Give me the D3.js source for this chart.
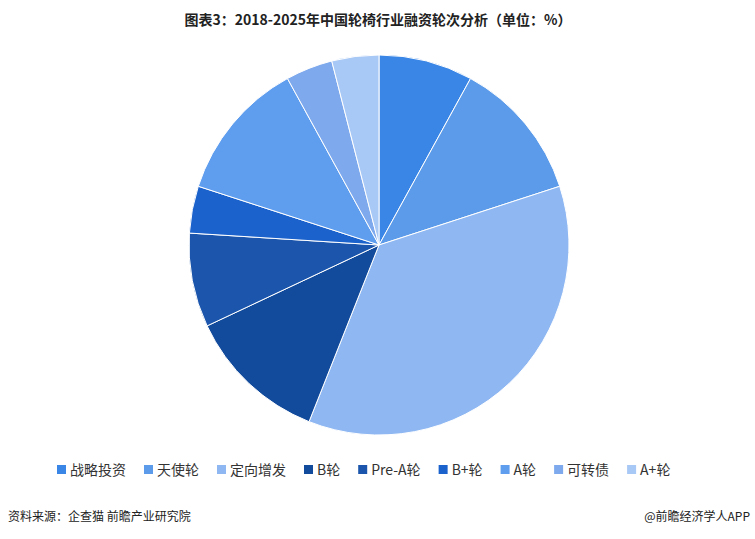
<!DOCTYPE html>
<html><head><meta charset="utf-8">
<script src="https://cdn.jsdelivr.net/npm/d3@7"></script>
<style>body{margin:0;background:#fff;font-family:"Noto Sans CJK SC","Noto Sans",sans-serif}</style>
</head><body>
<svg id="chart" width="755" height="539"></svg>
<script>
const categories = ["战略投资","天使轮","定向增发","B轮","Pre-A轮","B+轮","A轮","可转债","A+轮"];
const values = [8, 12, 36, 12, 8, 4, 12, 4, 4];
const colors = ["#3a86e6","#5b9be9","#8fb8f3","#124a9c","#1b56ac","#1b62cc","#5f9def","#7eaaed","#a8c8f5"];

const svg = d3.select("#chart");
const cx = 379, cy = 245, r = 190;

svg.append("text").attr("x", 378).attr("y", 25).attr("text-anchor", "middle")
  .attr("font-size", 14).attr("font-weight", "bold").attr("fill", "#222")
  .text("图表3：2018-2025年中国轮椅行业融资轮次分析（单位：%）");

const pie = d3.pie().sort(null)(values);
const arc = d3.arc().innerRadius(0).outerRadius(r);
svg.append("g").attr("transform", `translate(${cx},${cy})`)
  .selectAll("path").data(pie).join("path")
  .attr("d", arc).attr("fill", (d, i) => colors[i])
  .attr("stroke", "#fff").attr("stroke-width", 1);

// legend
const lg = svg.append("g").attr("font-size", 14).attr("fill", "#333");
let x = 57;
categories.forEach((c, i) => {
  lg.append("rect").attr("x", x).attr("y", 465).attr("width", 9).attr("height", 9).attr("fill", colors[i]);
  const t = lg.append("text").attr("x", x + 13).attr("y", 475).attr("fill", "#333").text(c);
  x += 13 + t.node().getComputedTextLength() + 18;
});

svg.append("text").attr("x", 8).attr("y", 521).attr("font-size", 12).attr("fill", "#222")
  .text("资料来源：企查猫  前瞻产业研究院");
svg.append("text").attr("x", 750).attr("y", 521).attr("text-anchor", "end").attr("font-size", 12).attr("fill", "#222")
  .text("@前瞻经济学人APP");
</script>
</body></html>
